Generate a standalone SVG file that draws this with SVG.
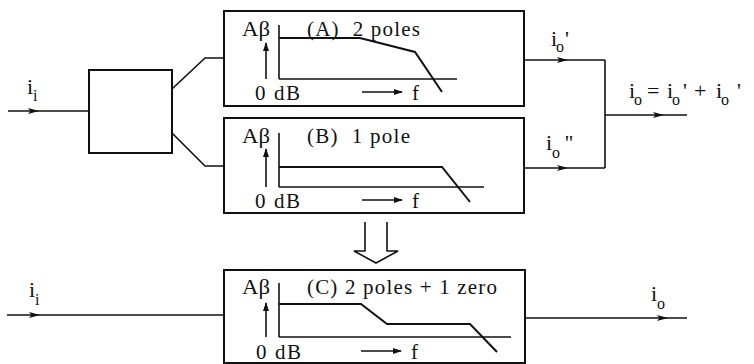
<svg xmlns="http://www.w3.org/2000/svg" width="754" height="364" viewBox="0 0 754 364">
<style>
.box{fill:none;stroke:#111;stroke-width:2}
.ln{fill:none;stroke:#111;stroke-width:1.6}
.cv{fill:none;stroke:#111;stroke-width:2}
.ax{fill:none;stroke:#111;stroke-width:1.6}
.t{font-size:21px;fill:#111}
.lb{font-size:22px;fill:#111}
.sb{font-size:16px}
</style>
<defs>
<marker id="ah" markerWidth="11" markerHeight="7" refX="10" refY="3.5" orient="auto" markerUnits="userSpaceOnUse">
<path d="M0,0.5 L11,3.5 L0,6.5 L2.5,3.5 z" fill="#111"/>
</marker>
<marker id="ax" markerWidth="9" markerHeight="6" refX="8" refY="3" orient="auto" markerUnits="userSpaceOnUse">
<path d="M0,0 L9,3 L0,6 z" fill="#111"/>
</marker>
</defs>
<rect width="754" height="364" fill="#fff"/>

<g id="splitter">
<rect class="box" x="89" y="70" width="83" height="83"/>
</g>

<g font-family="Liberation Serif, Tinos, Noto Serif, DejaVu Serif, FreeSerif, serif">
<g id="boxA">
<rect class="box" x="224" y="11" width="300" height="95"/>
<text class="t" x="242" y="36" textLength="28" lengthAdjust="spacingAndGlyphs">Aβ</text>
<text class="t" x="307" y="36" textLength="113" lengthAdjust="spacing" xml:space="preserve">(A)  2 poles</text>
<line class="ax" x1="279" y1="25" x2="279" y2="79"/>
<line class="ax" x1="279" y1="79" x2="457" y2="79"/>
<polyline class="cv" points="279,38 360,38 415,52 442,92"/>
<line class="ax" x1="266" y1="79" x2="266" y2="43" marker-end="url(#ax)"/>
<text class="t" x="255" y="100" textLength="45" lengthAdjust="spacing">0 dB</text>
<line class="ax" x1="362" y1="92" x2="402" y2="92" marker-end="url(#ax)"/>
<text class="t" x="412" y="100">f</text>
</g>

<g id="boxB">
<rect class="box" x="224" y="118" width="300" height="95"/>
<text class="t" x="242" y="143" textLength="28" lengthAdjust="spacingAndGlyphs">Aβ</text>
<text class="t" x="307" y="143" textLength="103" lengthAdjust="spacing" xml:space="preserve">(B)  1 pole</text>
<line class="ax" x1="279" y1="133" x2="279" y2="187"/>
<line class="ax" x1="279" y1="187" x2="484" y2="187"/>
<polyline class="cv" points="279,167 442,167 470,202"/>
<line class="ax" x1="266" y1="187" x2="266" y2="149" marker-end="url(#ax)"/>
<text class="t" x="255" y="208" textLength="45" lengthAdjust="spacing">0 dB</text>
<line class="ax" x1="362" y1="200" x2="402" y2="200" marker-end="url(#ax)"/>
<text class="t" x="412" y="208">f</text>
</g>

<g id="boxC">
<rect class="box" x="224" y="270" width="301" height="93"/>
<text class="t" x="242" y="294" textLength="28" lengthAdjust="spacingAndGlyphs">Aβ</text>
<text class="t" x="307" y="294" textLength="190" lengthAdjust="spacing">(C) 2 poles + 1 zero</text>
<line class="ax" x1="279" y1="283" x2="279" y2="337"/>
<line class="ax" x1="279" y1="337" x2="511" y2="337"/>
<polyline class="cv" points="279,304 361,304 387,324 470,324 497,352"/>
<line class="ax" x1="266" y1="337" x2="266" y2="303" marker-end="url(#ax)"/>
<text class="t" x="256" y="359" textLength="45" lengthAdjust="spacing">0 dB</text>
<line class="ax" x1="361" y1="351" x2="401" y2="351" marker-end="url(#ax)"/>
<text class="t" x="411" y="359">f</text>
</g>

<g id="labels">
<text class="lb"><tspan x="27" y="94">i</tspan><tspan class="sb" x="33" y="101">i</tspan></text>
<text class="lb"><tspan x="29" y="297">i</tspan><tspan class="sb" x="35" y="305">i</tspan></text>
<text class="lb"><tspan x="551" y="46">i</tspan><tspan class="sb" x="556" y="52">o</tspan><tspan x="565" y="46">'</tspan></text>
<text class="lb"><tspan x="546" y="150">i</tspan><tspan class="sb" x="552" y="158">o</tspan><tspan x="565" y="150">''</tspan></text>
<text class="lb"><tspan x="629" y="98">i</tspan><tspan class="sb" x="634" y="105">o</tspan><tspan x="647" y="98">=</tspan><tspan x="667" y="98">i</tspan><tspan class="sb" x="672" y="105">o</tspan><tspan x="683" y="98">'</tspan><tspan x="694" y="98">+</tspan><tspan x="716" y="98">i</tspan><tspan class="sb" x="721" y="105">o</tspan><tspan x="737" y="98">'</tspan></text>
<text class="lb"><tspan x="651" y="301">i</tspan><tspan class="sb" x="657" y="309">o</tspan></text>
</g>
</g>

<g id="connectors">
<polyline class="ln" points="8,111 38,111 89,111" marker-mid="url(#ah)"/>
<polyline class="ln" points="172,89 205,58 224,58"/>
<polyline class="ln" points="172,133 205,166 224,166"/>
<polyline class="ln" points="524,60 567,60 605,60" marker-mid="url(#ah)"/>
<polyline class="ln" points="524,168 567,168 605,168" marker-mid="url(#ah)"/>
<line class="ln" x1="605" y1="60" x2="605" y2="168"/>
<polyline class="ln" points="605,115 663,115 687,115" marker-mid="url(#ah)"/>
<polyline class="ln" points="7,315 39,315 224,315" marker-mid="url(#ah)"/>
<polyline class="ln" points="525,318 667,318 687,318" marker-mid="url(#ah)"/>
<polyline class="ln" points="365,222 365,251 354,251 376,263 398,251 387,251 387,222"/>
</g>
</svg>
